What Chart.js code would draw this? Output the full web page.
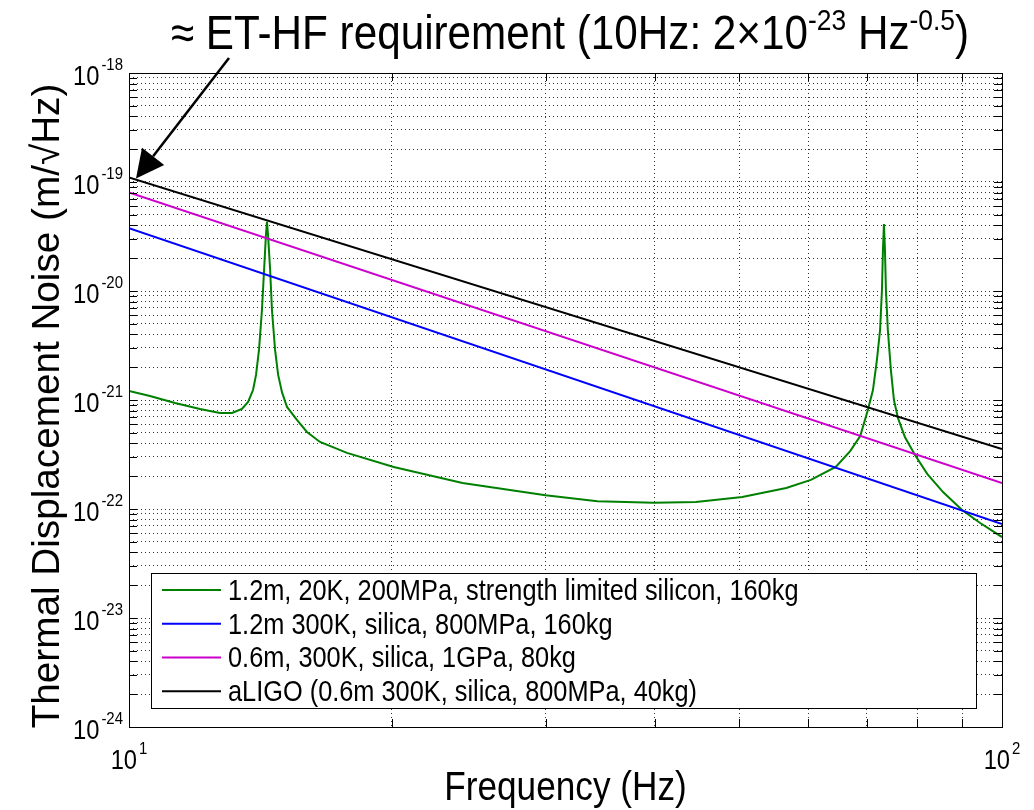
<!DOCTYPE html>
<html>
<head>
<meta charset="utf-8">
<script src="https://cdn.jsdelivr.net/npm/chart.js@4.4.0/dist/chart.umd.min.js"></script>
<style>
html, body { margin: 0; padding: 0; background: #fff; }
</style>
</head>
<body>
<canvas id="chart" width="1034" height="810"></canvas>
<script>
// series values (frequency in Hz, noise in m/sqrt(Hz))
const lineFreq = [10, 100]
const blueVals = [3.76e-20, 7.28e-23]
const magentaVals = [8.0e-20, 1.73e-22]
const blackVals = [1.1e-19, 3.55e-22]

const greenFreq = [10.0, 10.57, 11.29, 12.06, 12.71, 13.12, 13.47, 13.69, 13.87, 13.98, 14.09, 14.20, 14.28, 14.35, 14.39,
    14.43, 14.51, 14.58, 14.70, 14.82, 14.97, 15.17, 15.58, 15.99, 16.55, 17.77, 20.1, 24.1, 30.0, 34.4, 39.9, 44.6,
    50.4, 56.6, 60.4, 64.5, 67.0, 68.8, 70.2, 71.15, 71.9, 72.5, 72.86, 73.05, 73.24, 73.44, 73.63, 74.0, 74.6, 75.2,
    76.0, 77.4, 79.5, 82.1, 85.6, 90.0, 94.4, 100]
const greenVals = [1.21e-21, 1.09e-21, 9.39e-22, 8.27e-22, 7.6e-22, 7.6e-22, 8.27e-22, 9.59e-22, 1.235e-21, 1.7e-21, 2.88e-21, 6.69e-21, 1.56e-20, 3.27e-20, 4.3e-20,
    3.27e-20, 1.56e-20, 6.69e-21, 2.88e-21, 1.7e-21, 1.18e-21, 8.63e-22, 6.55e-22, 5.09e-22, 4.12e-22, 3.27e-22, 2.43e-22, 1.73e-22, 1.34e-22, 1.18e-22, 1.14e-22, 1.16e-22,
    1.29e-22, 1.56e-22, 1.85e-22, 2.43e-22, 3.4e-22, 4.67e-22, 8.1e-22, 1.235e-21, 2.33e-21, 4.39e-21, 1.02e-20, 2.38e-20, 4.12e-20, 2.38e-20, 1.02e-20, 4.39e-21, 1.88e-21, 1.0e-21,
    6.84e-22, 4.58e-22, 3.13e-22, 2.1e-22, 1.43e-22, 9.79e-23, 7.44e-23, 5.53e-23]

const seriesLabels = [
    "1.2m, 20K, 200MPa, strength limited silicon, 160kg",
    "1.2m 300K, silica, 800MPa, 160kg",
    "0.6m, 300K, silica, 1GPa, 80kg",
    "aLIGO (0.6m 300K, silica, 800MPa, 40kg)"
]
const seriesColors = ["#008000", "#0000ff", "#cc00cc", "#000000"]

// tick labels: powers of ten
const xExponents = [1, 2]
const yExponents = [-24, -23, -22, -21, -20, -19, -18]
const mantissas = [1, 2, 3, 4, 5, 6, 7, 8, 9]
const xGrid = [10, 20, 30, 40, 50, 60, 70, 80, 90, 100]

const titleParts = [["\u2248 ET-HF requirement (10Hz: 2\u00d710", false], ["-23", true], [" Hz", false], ["-0.5", true], [")", false]]
const xTitle = "Frequency (Hz)"
const yTitle = "Thermal Displacement Noise (m/\u221aHz)"

const FONT = '"Liberation Sans", Arial, sans-serif'
const SX = 0.88

let yGrid = []
for (let e = -24; e < -18; e++) {
    for (let m of mantissas) yGrid.push(m * Math.pow(10, e))
}
yGrid.push(1e-18)

function pts(fs, vs) {
    return fs.map((f, i) => ({x: f, y: vs[i]}))
}

function textW(ctx, s, size) {
    ctx.font = size + "px " + FONT
    return ctx.measureText(s).width * SX
}
function drawText(ctx, s, x, y, size) {
    ctx.save()
    ctx.translate(x, y)
    ctx.scale(SX, 1)
    ctx.font = size + "px " + FONT
    ctx.textAlign = "left"
    ctx.textBaseline = "alphabetic"
    ctx.fillStyle = "#000"
    ctx.fillText(s, 0, 0)
    ctx.restore()
}
// "10" with a raised exponent
function powLabel(ctx, exp, x, y, size, supSize, align) {
    let b = "10", s = String(exp)
    let gap = 2
    let w = textW(ctx, b, size) + gap + textW(ctx, s, supSize)
    let x0 = align == "right" ? x - w : x - w / 2
    drawText(ctx, b, x0, y, size)
    drawText(ctx, s, x0 + textW(ctx, b, size) + gap, y - size * 0.55, supSize)
}

const decor = {
    id: "decor",
    afterDraw(chart) {
        const ctx = chart.ctx
        const a = chart.chartArea
        const xs = chart.scales.x, ys = chart.scales.y

        // inward ticks
        ctx.save()
        ctx.strokeStyle = "#000"
        ctx.lineWidth = 1
        ctx.beginPath()
        for (let v of yGrid) {
            let p = Math.round(ys.getPixelForValue(v)) + 0.5
            ctx.moveTo(a.left, p); ctx.lineTo(a.left + 8, p)
            ctx.moveTo(a.right, p); ctx.lineTo(a.right - 8, p)
        }
        for (let v of xGrid) {
            let p = Math.round(xs.getPixelForValue(v)) + 0.5
            ctx.moveTo(p, a.bottom); ctx.lineTo(p, a.bottom - 8)
            ctx.moveTo(p, a.top); ctx.lineTo(p, a.top + 8)
        }
        ctx.stroke()
        ctx.strokeRect(Math.round(a.left) + 0.5, Math.round(a.top) + 0.5, Math.round(a.right - a.left), Math.round(a.bottom - a.top))
        ctx.restore()

        // tick labels
        for (let e of yExponents) {
            let p = ys.getPixelForValue(Math.pow(10, e))
            powLabel(ctx, e, a.left - 6, p + 12, 27, 17, "right")
        }
        for (let e of xExponents) {
            let p = xs.getPixelForValue(Math.pow(10, e))
            powLabel(ctx, e, p, a.bottom + 42, 27, 17, "center")
        }

        // axis titles
        let w = textW(ctx, xTitle, 40)
        drawText(ctx, xTitle, (a.left + a.right) / 2 - w / 2, a.bottom + 73, 40)
        ctx.save()
        ctx.translate(59, 406)
        ctx.rotate(-Math.PI / 2)
        ctx.font = "38.7px " + FONT
        ctx.textAlign = "center"
        ctx.fillStyle = "#000"
        ctx.fillText(yTitle, 0, 0)
        ctx.restore()

        // legend
        let lx = 151, ly = 573, lw = 825, lh = 135
        ctx.save()
        ctx.fillStyle = "#fff"
        ctx.fillRect(lx, ly, lw, lh)
        ctx.strokeStyle = "#000"
        ctx.lineWidth = 1
        ctx.strokeRect(lx + 0.5, ly + 0.5, lw, lh)
        chart.data.datasets.forEach((ds, i) => {
            let cy = ly + lh * (i + 0.5) / 4
            ctx.strokeStyle = ds.borderColor
            ctx.lineWidth = 2
            ctx.beginPath()
            ctx.moveTo(lx + 11, cy); ctx.lineTo(lx + 70, cy)
            ctx.stroke()
            drawText(ctx, ds.label, lx + 77, cy + 10, 28.8)
        })
        ctx.restore()

        // title
        let tw = 0
        for (let [s, sup] of titleParts) tw += textW(ctx, s, sup ? 30 : 48)
        let tx = 570 - tw / 2
        for (let [s, sup] of titleParts) {
            drawText(ctx, s, tx, sup ? 30 : 49, sup ? 30 : 48)
            tx += textW(ctx, s, sup ? 30 : 48)
        }

        // arrow to the black curve at 10 Hz
        let tipX = xs.getPixelForValue(lineFreq[0]) + 7
        let tipY = ys.getPixelForValue(blackVals[0]) + 1
        let tailX = 229, tailY = 58
        let ang = Math.atan2(tipY - tailY, tipX - tailX)
        let hl = 28, hw = 14
        let bx = tipX - hl * Math.cos(ang), by = tipY - hl * Math.sin(ang)
        ctx.save()
        ctx.strokeStyle = "#000"
        ctx.fillStyle = "#000"
        ctx.lineWidth = 2.5
        ctx.beginPath()
        ctx.moveTo(tailX, tailY); ctx.lineTo(bx, by)
        ctx.stroke()
        ctx.beginPath()
        ctx.moveTo(tipX, tipY)
        ctx.lineTo(bx + hw * Math.sin(ang), by - hw * Math.cos(ang))
        ctx.lineTo(bx - hw * Math.sin(ang), by + hw * Math.cos(ang))
        ctx.closePath()
        ctx.fill()
        ctx.restore()
    }
}

const gridOpts = {
    color: "#333",
    lineWidth: 1,
    drawTicks: false
}

const ctx = document.getElementById("chart").getContext("2d")
const chart = new Chart(ctx, {
    type: "line",
    data: {
        datasets: [
            {label: seriesLabels[0], data: pts(greenFreq, greenVals), borderColor: seriesColors[0]},
            {label: seriesLabels[1], data: pts(lineFreq, blueVals), borderColor: seriesColors[1]},
            {label: seriesLabels[2], data: pts(lineFreq, magentaVals), borderColor: seriesColors[2]},
            {label: seriesLabels[3], data: pts(lineFreq, blackVals), borderColor: seriesColors[3]}
        ].map((d, i) => Object.assign(d, {borderWidth: 2, pointRadius: 0, tension: 0, fill: false, order: 4 - i}))
    },
    options: {
        responsive: false,
        animation: false,
        layout: {padding: {left: 129, right: 32, top: 73, bottom: 83}},
        plugins: {legend: {display: false}, tooltip: {enabled: false}, title: {display: false}},
        scales: {
            x: {
                type: "logarithmic", min: 10, max: 100,
                grid: gridOpts,
                border: {display: false, dash: [1, 3]},
                ticks: {display: false},
                afterBuildTicks: axis => { axis.ticks = xGrid.map(v => ({value: v})) }
            },
            y: {
                type: "logarithmic", min: 1e-24, max: 1e-18,
                grid: gridOpts,
                border: {display: false, dash: [1, 3]},
                ticks: {display: false},
                afterBuildTicks: axis => { axis.ticks = yGrid.map(v => ({value: v})) }
            }
        }
    },
    plugins: [decor]
})
</script>
</body>
</html>
